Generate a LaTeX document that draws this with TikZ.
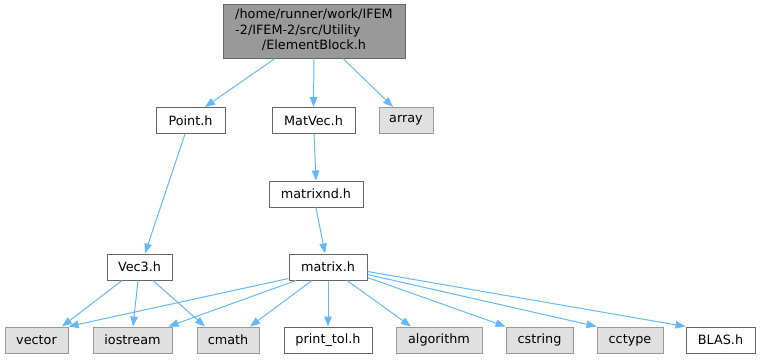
\documentclass[tikz,border=0pt]{standalone}
\usepackage{fontspec}
\setmainfont{DejaVu Sans}
\usetikzlibrary{arrows.meta,calc}
\definecolor{edgeblue}{HTML}{63B8FF}
\definecolor{boxline}{HTML}{666666}
\definecolor{rootfill}{HTML}{999999}
\definecolor{sysfill}{HTML}{E0E0E0}
\definecolor{sysline}{HTML}{999999}
\begin{document}
\begin{tikzpicture}[x=1pt,y=-1pt,
 filebox/.style={draw=boxline,fill=white,line width=1pt,minimum height=26pt,inner sep=0pt,font=\fontsize{12.8}{15.5}\selectfont},
 sysbox/.style={filebox,draw=sysline,fill=sysfill},
 rootbox/.style={filebox,fill=rootfill,minimum height=54pt},
 dep/.style={draw=edgeblue,line width=1pt,-{Triangle[length=10pt,width=7.5pt]}}]
\useasboundingbox (0,0) rectangle (760,359);
\node[rootbox,minimum width=182pt] (eb) at (314,31) {\renewcommand\arraystretch{1}\begin{tabular}{@{}l@{}}/home/runner/work/IFEM\\-2/IFEM-2/src/Utility\\\multicolumn{1}{@{}c@{}}{/ElementBlock.h}\end{tabular}};
\node[filebox,minimum width=69pt] (pt) at (190.5,120.5) {Point.h};
\node[filebox,minimum width=83pt] (mv) at (313.5,120.5) {MatVec.h};
\node[sysbox,minimum width=54pt] (ar) at (406,120.5) {array};
\node[filebox,minimum width=94pt] (mnd) at (316,194) {matrixnd.h};
\node[filebox,minimum width=65pt] (v3) at (139.5,267) {Vec3.h};
\node[filebox,minimum width=78pt] (mx) at (328,267) {matrix.h};
\node[sysbox,minimum width=63pt] (vec) at (36.5,340) {vector};
\node[sysbox,minimum width=79pt] (ios) at (132.5,340) {iostream};
\node[sysbox,minimum width=62pt] (cm) at (228,340) {cmath};
\node[filebox,minimum width=88pt] (ptol) at (328,340) {print\_tol.h};
\node[sysbox,minimum width=86pt] (alg) at (439,340) {algorithm};
\node[sysbox,minimum width=67pt] (cs) at (539.5,340) {cstring};
\node[sysbox,minimum width=66pt] (cc) at (630,340) {cctype};
\node[filebox,minimum width=69pt] (bl) at (720.5,340) {BLAS.h};
\draw[dep] ([xshift=-39pt]eb.south) -- ([xshift=14.5pt]pt.north);
\draw[dep] (eb.south) -- (mv.north);
\draw[dep] ([xshift=29pt]eb.south) -- ([xshift=-13pt]ar.north);
\draw[dep] ([xshift=-5.5pt]pt.south) -- ([xshift=5.5pt]v3.north);
\draw[dep] ([xshift=0.5pt]mv.south) -- (mnd.north);
\draw[dep] (mnd.south) -- ([xshift=-3pt]mx.north);
\draw[dep] ([xshift=-17.5pt]v3.south) -- ([xshift=25.5pt]vec.north);
\draw[dep] ([xshift=-1.5pt]v3.south) -- ([xshift=0.5pt]ios.north);
\draw[dep] ([xshift=13.5pt]v3.south) -- ([xshift=-23pt]cm.north);
\draw[dep] ([yshift=2pt]mx.south west) -- (vec.north east);
\draw[dep] ([xshift=-32pt]mx.south) -- ([xshift=-4pt]ios.north east);
\draw[dep] ([xshift=-16pt]mx.south) -- ([xshift=22pt]cm.north);
\draw[dep] (mx.south) -- (ptol.north);
\draw[dep] ([xshift=19pt]mx.south) -- ([xshift=-28pt]alg.north);
\draw[dep] ([yshift=3pt]mx.south east) -- (cs.north west);
\draw[dep] ([yshift=6pt]mx.south east) -- (cc.north west);
\draw[dep] ([yshift=9pt]mx.south east) -- (bl.north west);
\end{tikzpicture}
\end{document}
